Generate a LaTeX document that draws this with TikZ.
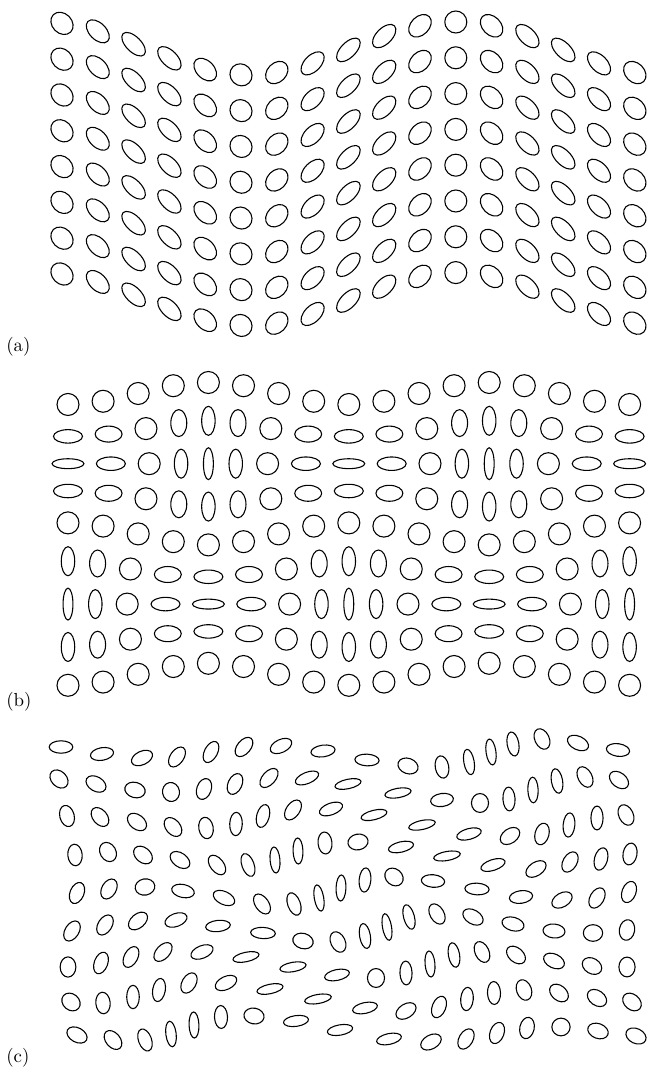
\documentclass[tikz,border=0pt]{standalone}
\begin{document}
\begin{tikzpicture}[x=0.5556pt,y=0.5556pt,
  ell/.style={line width=0.6pt},
  lab/.style={anchor=base west, inner sep=0pt, font=\fontsize{10.5}{12}\selectfont}]
\useasboundingbox (0,0) rectangle (648,1068);
% ---------- panel (a): shear wave ----------
\foreach \i in {0,...,16}{
  \pgfmathsetmacro\ph{360*(\i-11)/11.6}
  \pgfmathsetmacro\f{sin(\ph)}
  \pgfmathsetmacro\dy{25.5-26.5*cos(\ph)}
  \pgfmathsetmacro\ra{\f>0 ? 11*(1+0.36*\f) : 11*(1+0.32*\f)}
  \pgfmathsetmacro\rb{\f>0 ? 11*(1-0.32*\f) : 11*(1-0.36*\f)}
  \foreach \j in {0,...,7}{
    \pgfmathsetmacro\xx{62+35.8*\i}
    \pgfmathsetmacro\yy{1068-(23+35.8*\j+\dy)}
    \draw[ell, shift={(\xx,\yy)}, rotate=-45] (0,0) ellipse [x radius=\ra, y radius=\rb];
  }
}
% ---------- panel (b): cellular field ----------
\foreach \i in {0,...,16}{
  \foreach \j in {0,...,8}{
    \pgfmathsetmacro\xx{68+35.1*\i+11*sin(45*\i)*sin(45*\j)}
    \pgfmathsetmacro\yy{1068-(393.5+35.1*\j+11*cos(45*\i)*cos(45*\j))}
    \pgfmathsetmacro\f{cos(45*\i)*sin(45*\j)}
    \pgfmathsetmacro\rx{\f>0 ? 11*(1+0.45*\f) : 11*(1+0.55*\f)}
    \pgfmathsetmacro\ry{\f>0 ? 11*(1-0.55*\f) : 11*(1-0.45*\f)}
    \draw[ell] (\xx,\yy) ellipse [x radius=\rx, y radius=\ry];
  }
}
% ---------- panel (c): general field ----------
\foreach \cx/\cy/\ca/\ce in {
61/747/0/0.62, 102/754/10/0.6, 142/758/25/0.5, 177/757/55/0.5, 211/752/62/0.55,
244/747/50/0.5, 281/746/25/0.55, 323/751/8/0.7, 367/760/-3/0.7, 408/766/-20/0.3,
442/767/100/0.5, 469/762/100/0.85, 491/752/98/0.9, 513/744/100/0.7, 542/739/115/0.4,
578/743/-25/0.5, 618/750/-8/0.6,
59/779/-45/0.3, 96/784/-30/0.4, 135/790/-15/0.3, 171/792/100/0.12, 204/789/70/0.4,
235/784/65/0.45, 269/778/48/0.55, 307/778/22/0.75, 348/784/12/0.95, 398/793/10/0.95,
442/800/8/0.55, 480/803/90/0.1, 509/799/93/0.65, 533/790/92/0.85, 557/781/100/0.75,
585/777/118/0.45, 619/780/-38/0.4,
67/816/105/0.4, 100/817/130/0.4, 137/822/-38/0.4, 173/827/-50/0.4, 206/828/100/0.4,
236/824/88/0.6, 263/816/75/0.6, 293/810/55/0.5, 331/809/20/0.7, 374/815/14/0.95,
422/825/12/1.0, 469/834/15/0.8, 510/836/35/0.4, 542/834/75/0.45, 569/825/85/0.7,
597/818/90/0.65, 626/815/115/0.4,
75/855/95/0.4, 108/852/120/0.25, 143/855/-40/0.35, 180/860/-35/0.45, 217/865/-52/0.5,
248/865/110/0.65, 275/860/95/0.9, 298/851/92/0.9, 325/843/95/0.45, 358/842/10/0.25,
401/847/13/0.85, 447/856/10/1.0, 493/865/18/0.8, 536/869/33/0.5, 570/862/60/0.45,
601/859/75/0.55, 630/854/80/0.45,
77/893/68/0.45, 109/889/60/0.4, 145/887/10/0.2, 183/891/-12/0.55, 224/898/-25/0.55,
262/904/-55/0.5, 294/904/110/0.6, 319/898/100/0.95, 341/888/88/0.9, 365/880/85/0.7,
394/877/-40/0.2, 433/881/-5/0.6, 477/889/-3/0.7, 521/897/8/0.6, 562/900/30/0.45,
597/898/60/0.45, 629/892/70/0.45,
72/931/58/0.45, 105/925/58/0.45, 138/921/40/0.45, 176/920/20/0.55, 218/926/6/0.75,
263/933/-3/0.75, 303/941/-15/0.3, 338/942/115/0.4, 365/936/100/0.8, 387/927/100/1.0,
409/917/105/0.8, 437/914/120/0.45, 473/917/-30/0.45, 513/924/-15/0.5, 554/931/-5/0.45,
593/933/0/0.15, 627/930/80/0.3,
68/967/90/0.25, 101/963/70/0.5, 131/957/62/0.5, 163/952/47/0.5, 202/952/22/0.6,
246/957/12/0.95, 293/967/10/0.95, 337/975/12/0.8, 376/978/90/0.1, 406/973/92/0.65,
430/964/95/0.9, 454/955/100/0.75, 482/952/115/0.45, 516/955/-40/0.4, 554/961/-25/0.45,
592/966/-30/0.3, 627/967/90/0.2,
71/1002/-40/0.2, 103/1003/95/0.4, 133/997/90/0.6, 159/990/80/0.6, 189/983/60/0.45,
226/983/25/0.55, 270/989/12/0.95, 318/999/10/1.0, 365/1008/12/0.8, 406/1011/32/0.45,
439/1007/68/0.5, 467/999/85/0.6, 494/993/92/0.55, 524/990/110/0.35, 559/993/-40/0.35,
597/998/-35/0.35, 632/1002/-40/0.3,
77/1035/-28/0.4, 113/1040/-50/0.4, 145/1040/110/0.55, 171/1034/97/0.85, 194/1025/92/0.9,
221/1017/92/0.55, 254/1016/-10/0.25, 296/1021/8/0.8, 340/1030/10/0.85, 389/1039/12/0.8,
431/1042/28/0.45, 466/1039/60/0.45, 497/1033/70/0.45, 527/1028/78/0.4, 561/1027/0/0.03,
598/1031/-20/0.35, 636/1036/-25/0.35}{
  \pgfmathsetmacro\ra{9*(1+0.5*\ce)}
  \pgfmathsetmacro\rb{9*(1-0.5*\ce)}
  \pgfmathsetmacro\yy{1068-\cy}
  \draw[ell, shift={(\cx,\yy)}, rotate=\ca] (0,0) ellipse [x radius=\ra, y radius=\rb];
}
% ---------- labels ----------
\node[lab] (la) at (6,716.5) {(a)};
\node[lab] (lb) at (6,361.5) {(b)};
\node[lab] (lc) at (6,5.5) {(c)};
\end{tikzpicture}
\end{document}
